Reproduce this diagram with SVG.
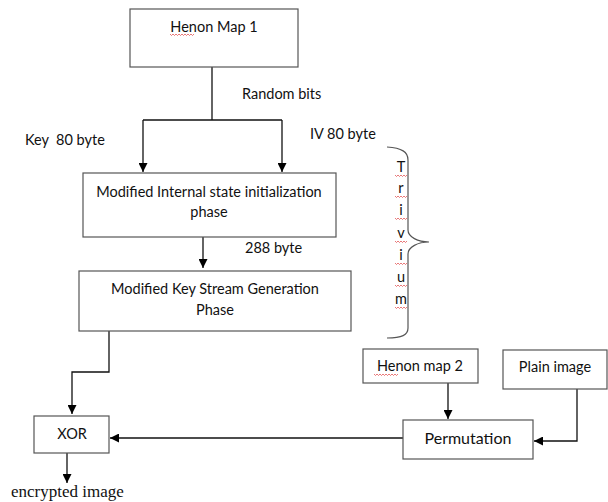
<svg xmlns="http://www.w3.org/2000/svg" width="608" height="502" viewBox="0 0 608 502">
  <defs>
    <marker id="arrow" viewBox="0 0 10 10" refX="10" refY="5" markerWidth="9" markerHeight="9" markerUnits="userSpaceOnUse" orient="auto">
      <path d="M0,0 L10,5 L0,10 z" fill="#000"/>
    </marker>
    <path id="squig" d="M0,0 l1.5,1.5 l1.5,-1.5 l1.5,1.5 l1.5,-1.5 l1.5,1.5 l1.5,-1.5 l1.5,1.5 l1.5,-1.5" fill="none" stroke="#e04040" stroke-width="0.7"/>
  </defs>
  <style>
    .box { fill: #fff; stroke: #555; stroke-width: 1.2; }
    .lbl { font-family: Lato, "Liberation Sans", Arial, sans-serif; font-size: 14.5px; fill: #111; }
    .mid { text-anchor: middle; }
    .conn { fill: none; stroke: #111; stroke-width: 1.3; }
    .serif { font-family: "Liberation Serif", "Times New Roman", serif; font-size: 17px; fill: #111; }
  </style>

  <rect width="608" height="502" fill="#fff"/>

  <!-- connectors -->
  <g id="connectors">
    <path class="conn" d="M212,67 V120"/>
    <path class="conn" d="M143,120 H282"/>
    <path class="conn" d="M143,120 V172" marker-end="url(#arrow)"/>
    <path class="conn" d="M282,120 V172" marker-end="url(#arrow)"/>
    <path class="conn" d="M203,237 V268" marker-end="url(#arrow)"/>
    <path class="conn" d="M109,331 V372 H72 V414" marker-end="url(#arrow)"/>
    <path class="conn" d="M67,453 V483" marker-end="url(#arrow)"/>
    <path class="conn" d="M403,438 H110" marker-end="url(#arrow)"/>
    <path class="conn" d="M448,383 V419" marker-end="url(#arrow)"/>
    <path class="conn" d="M577,389 V441 H534" marker-end="url(#arrow)"/>
  </g>

  <!-- edge labels -->
  <g id="labels">
    <text class="lbl" x="242" y="99">Random bits</text>
    <text class="lbl" x="25" y="145" xml:space="preserve">Key  80 byte</text>
    <text class="lbl" x="310" y="139">IV 80 byte</text>
    <text class="lbl" x="245" y="253">288 byte</text>
  </g>

  <g id="henon1">
    <rect class="box" x="130" y="9" width="168" height="58"/>
    <text class="lbl mid" x="214" y="32">Henon Map 1</text>
    <use href="#squig" x="170" y="34"/>
    <use href="#squig" x="182" y="34"/>
  </g>

  <g id="init">
    <rect class="box" x="83" y="173" width="253" height="64"/>
    <text class="lbl mid" x="209" y="197">Modified Internal state initialization</text>
    <text class="lbl mid" x="209" y="217">phase</text>
  </g>

  <g id="keystream">
    <rect class="box" x="79" y="271" width="272" height="60"/>
    <text class="lbl mid" x="215" y="294">Modified Key Stream Generation</text>
    <text class="lbl mid" x="215" y="315">Phase</text>
  </g>

  <g id="trivium">
    <path d="M387,147 C402,148 408,152 408,160 V230 C408,237 418,242 429,242 C418,242 408,247 408,254 V328 C408,335 402,338 387,338" fill="none" stroke="#555" stroke-width="1.2"/>
    <g class="lbl mid">
      <text x="401" y="172">T</text>
      <text x="401" y="193">r</text>
      <text x="401" y="215">i</text>
      <text x="401" y="238">v</text>
      <text x="401" y="260">i</text>
      <text x="401" y="282">u</text>
      <text x="401" y="304">m</text>
    </g>
    <use href="#squig" x="395" y="175"/>
    <use href="#squig" x="395" y="196"/>
    <use href="#squig" x="395" y="218"/>
    <use href="#squig" x="395" y="241"/>
    <use href="#squig" x="395" y="263"/>
    <use href="#squig" x="395" y="285"/>
    <use href="#squig" x="395" y="307"/>
  </g>

  <g id="xor">
    <rect class="box" x="34" y="416" width="75" height="37"/>
    <text class="lbl mid" x="72" y="439">XOR</text>
  </g>

  <text class="serif" x="11" y="497">encrypted image</text>

  <g id="henon2">
    <rect class="box" x="363" y="349" width="115" height="34"/>
    <text class="lbl mid" x="420" y="371">Henon map 2</text>
    <use href="#squig" x="374" y="374"/>
    <use href="#squig" x="386" y="374"/>
  </g>

  <g id="plain">
    <rect class="box" x="503" y="350" width="104" height="39"/>
    <text class="lbl mid" x="555" y="372">Plain image</text>
  </g>

  <g id="permutation">
    <rect class="box" x="403" y="420" width="130" height="39"/>
    <text class="lbl mid" x="468" y="444" style="font-size:16px">Permutation</text>
  </g>
</svg>
